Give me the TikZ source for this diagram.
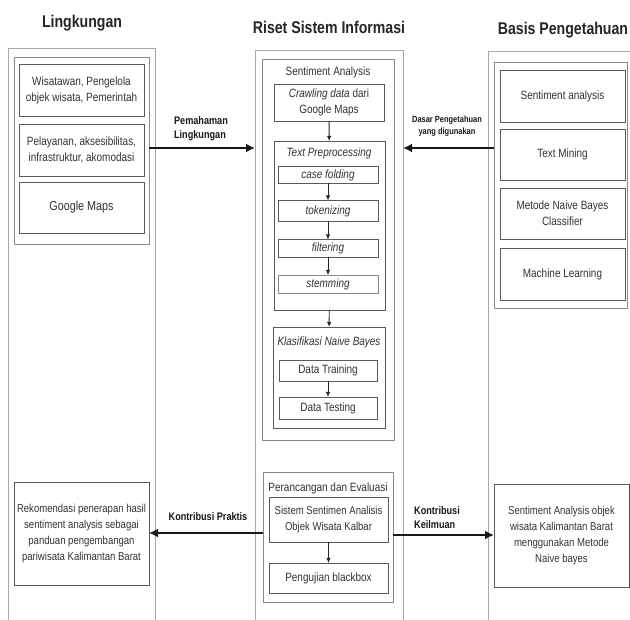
\documentclass[tikz,border=0pt]{standalone}
\usepackage{fontspec}
\setmainfont[FakeStretch=0.83]{Liberation Sans}
\usetikzlibrary{arrows.meta}
\definecolor{colgray}{HTML}{A8A8A8}
\definecolor{grpgray}{HTML}{8A8A8A}
\definecolor{boxgray}{HTML}{5A5A5A}
\definecolor{txt}{HTML}{333333}
\tikzset{
  box/.style={draw=boxgray, line width=0.9pt, inner sep=0pt, outer sep=0pt, align=center, text=txt, font=\fontsize{12}{16}\selectfont},
  grp/.style={draw=grpgray, line width=0.9pt, inner sep=0pt, outer sep=0pt},
  colbox/.style={draw=none, inner sep=0pt, outer sep=0pt},
  colline/.style={draw=colgray, line width=0.8pt},
  coltitle/.style={font=\fontsize{17}{20}\selectfont\bfseries, text=black!85},
  grptitle/.style={font=\fontsize{12}{15}\selectfont, text=txt, inner sep=0pt},
  lbl/.style={font=\fontsize{11}{14}\selectfont\bfseries, text=black!90, align=left, inner sep=0pt},
  bigarrow/.style={line width=1.8pt, draw=black!90, -{Latex[length=9pt,width=9pt]}},
  smallarrow/.style={line width=0.9pt, draw=black!85, -{Latex[length=5pt,width=4.5pt]}},
}
\begin{document}
\begin{tikzpicture}[x=1pt,y=-1pt]
\useasboundingbox (0,0) rectangle (630,620);
\fill[white] (0,0) rectangle (630,620);

% column titles
\node[coltitle] (tL) at (82,23) {Lingkungan};
\node[coltitle] (tM) at (329,27) {Riset Sistem Informasi};
\node[coltitle] (tR) at (563,30) {Basis Pengetahuan};

% outer columns (open at the bottom)
\node[colbox, minimum width=147pt, minimum height=572pt] (colL) at (81.5,334) {};
\node[colbox, minimum width=148pt, minimum height=570pt] (colM) at (329,335) {};
\node[colbox, minimum width=142pt, minimum height=569pt] (colR) at (559,335.5) {};
\draw[colline] (colL.south west) |- (colL.north east) -- (colL.south east);
\draw[colline] (colM.south west) |- (colM.north east) -- (colM.south east);
\draw[colline] (colR.south west) |- (colR.north east);

% left column
\node[grp, minimum width=135pt, minimum height=187pt] (gL) at (81.5,150.5) {};
\node[box, minimum width=125pt, minimum height=52pt] (L1) at (81.5,90) {Wisatawan, Pengelola\\objek wisata, Pemerintah};
\node[box, minimum width=125pt, minimum height=52pt] (L2) at (81.5,150) {Pelayanan, aksesibilitas,\\infrastruktur, akomodasi};
\node[box, minimum width=125pt, minimum height=51pt, font=\fontsize{13}{16}\selectfont] (L3) at (81.5,207.5) {Google Maps};
\node[box, minimum width=135pt, minimum height=103pt, font=\fontsize{11.5}{16}\selectfont] (LB) at (81.5,533.5) {Rekomendasi penerapan hasil\\sentiment analysis sebagai\\panduan pengembangan\\pariwisata Kalimantan Barat};

% middle column: Sentiment Analysis
\node[grp, minimum width=132pt, minimum height=381pt] (SA) at (328,249.5) {};
\node[grptitle] (SAt) at (328,72) {Sentiment Analysis};
\node[box, minimum width=110pt, minimum height=37pt] (crawl) at (329,102.5) {\textit{Crawling data} dari\\Google Maps};
\node[grp, draw=boxgray, minimum width=111pt, minimum height=169pt] (TP) at (329.5,225.5) {};
\node[grptitle, font=\fontsize{12}{15}\selectfont\itshape] (TPt) at (329,153) {Text Preprocessing};
\node[box, minimum width=100pt, minimum height=17pt, font=\fontsize{12}{15}\selectfont\itshape] (cf) at (328,175) {case folding};
\node[box, minimum width=100pt, minimum height=21pt, font=\fontsize{12}{15}\selectfont\itshape] (tok) at (328,211) {tokenizing};
\node[box, minimum width=100pt, minimum height=18pt, font=\fontsize{12}{15}\selectfont\itshape] (fil) at (328,248.5) {filtering};
\node[box, draw=grpgray, minimum width=100pt, minimum height=18pt, font=\fontsize{12}{15}\selectfont\itshape] (stem) at (328,284) {stemming};
\node[grp, draw=boxgray, minimum width=112pt, minimum height=101pt] (KN) at (329,377.5) {};
\node[grptitle, font=\fontsize{12}{15}\selectfont\itshape] (KNt) at (329,342) {Klasifikasi Naive Bayes};
\node[box, minimum width=98pt, minimum height=21pt] (dtr) at (328,370.5) {Data Training};
\node[box, minimum width=98pt, minimum height=22pt] (dte) at (328,408) {Data Testing};

% middle column: Perancangan dan Evaluasi
\node[grp, minimum width=130pt, minimum height=130pt] (PE) at (328,537) {};
\node[grptitle] (PEt) at (328,488) {Perancangan dan Evaluasi};
\node[box, minimum width=119pt, minimum height=45pt, font=\fontsize{11.5}{16}\selectfont] (sys) at (328.5,519.5) {Sistem Sentimen Analisis\\Objek Wisata Kalbar};
\node[box, minimum width=119pt, minimum height=30pt] (bb) at (328.5,578) {Pengujian blackbox};

% right column
\node[grp, minimum width=133pt, minimum height=246pt] (gR) at (560.5,185) {};
\node[box, minimum width=125pt, minimum height=52pt] (R1) at (562.5,96) {Sentiment analysis};
\node[box, minimum width=125pt, minimum height=51pt] (R2) at (562.5,154.5) {Text Mining};
\node[box, minimum width=125pt, minimum height=51pt] (R3) at (562.5,213.5) {Metode Naive Bayes\\Classifier};
\node[box, minimum width=125pt, minimum height=52pt] (R4) at (562.5,274) {Machine Learning};
\node[box, minimum width=135pt, minimum height=103pt, font=\fontsize{11.5}{16}\selectfont] (RB) at (561.5,535.5) {Sentiment Analysis objek\\wisata Kalimantan Barat\\menggunakan Metode\\Naive bayes};

% small arrows inside the middle column
\draw[smallarrow] (crawl) -- (TP);
\draw[smallarrow] (cf) -- (tok);
\draw[smallarrow] (tok) -- (fil);
\draw[smallarrow] (fil) -- (stem);
\draw[smallarrow] (TP) -- (KN);
\draw[smallarrow] (dtr) -- (dte);
\draw[smallarrow] (sys) -- (bb);

% rows of the big arrows
\coordinate (rowA) at (0,148);
\coordinate (rowB) at (0,533);
\coordinate (rowC) at (0,535);

\draw[bigarrow] (gL.east |- rowA) -- (colM.west |- rowA);
\draw[bigarrow] (gR.west |- rowA) -- (colM.east |- rowA);
\draw[bigarrow] (PE.west |- rowB) -- (LB.east |- rowB);
\draw[bigarrow] (PE.east |- rowC) -- (RB.west |- rowC);

% arrow labels
\node[lbl] (lA) at (201,129) {Pemahaman\\Lingkungan};
\node[lbl, align=center, font=\fontsize{9}{12}\selectfont\bfseries] (lD) at (447,126) {Dasar Pengetahuan\\yang digunakan};
\node[lbl] (lP) at (208,517) {Kontribusi Praktis};
\node[lbl] (lK) at (437,518) {Kontribusi\\Keilmuan};
\end{tikzpicture}
\end{document}
